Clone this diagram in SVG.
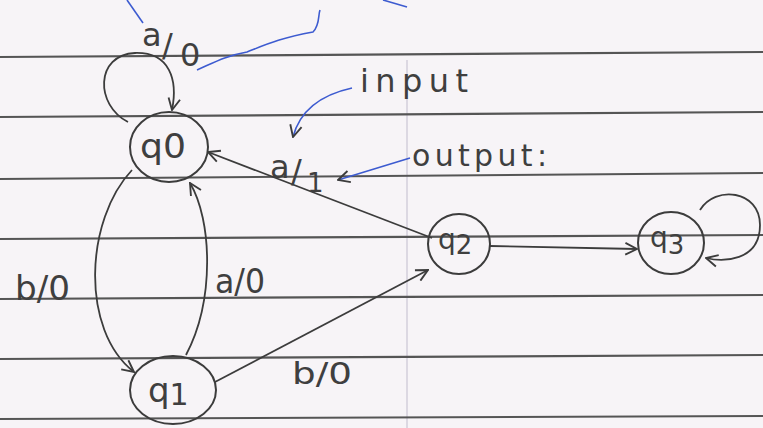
<svg xmlns="http://www.w3.org/2000/svg" width="763" height="428" viewBox="0 0 763 428">
<style>
.paper{fill:#f7f4f7}
.rule{stroke:#555;stroke-width:2.2;fill:none}
.faint{stroke:#dcd8e2;stroke-width:2;fill:none}
.node{fill:none;stroke:#3c3c3c;stroke-width:2}
.edge{fill:none;stroke:#3c3c3c;stroke-width:1.8}
.blue{fill:none;stroke:#3d5bd0;stroke-width:1.6}
.lbl{font-family:"DejaVu Sans","Liberation Sans",sans-serif;fill:#3f3f3f}
</style>
<defs>
<marker id="arr" viewBox="0 0 12 12" refX="11" refY="6" markerWidth="14" markerHeight="14" markerUnits="userSpaceOnUse" orient="auto">
<path d="M1,1 L11,6 L1,11" fill="none" stroke="#3c3c3c" stroke-width="1.6"/>
</marker>
</defs>
<rect class="paper" width="763" height="428"/>
<g id="paper-lines">
<line class="faint" x1="407" y1="60" x2="407" y2="428"/>
<line class="rule" x1="0" y1="57" x2="763" y2="52"/>
<line class="rule" x1="0" y1="117" x2="763" y2="112"/>
<line class="rule" x1="0" y1="179" x2="763" y2="173"/>
<line class="rule" x1="0" y1="239" x2="763" y2="235"/>
<line class="rule" x1="0" y1="299" x2="763" y2="295"/>
<line class="rule" x1="0" y1="359" x2="763" y2="355"/>
<line class="rule" x1="0" y1="419" x2="763" y2="416"/>
</g>
<g id="connectors">
<path class="edge" d="M128,122 C95,105 95,55 135,53 C170,52 178,80 172,110" marker-end="url(#arr)"/>
<path class="edge" d="M132,170 C85,220 80,330 134,372" marker-end="url(#arr)"/>
<path class="edge" d="M186,355 C215,300 212,220 190,183" marker-end="url(#arr)"/>
<path class="edge" d="M432,238 L208,152" marker-end="url(#arr)"/>
<path class="edge" d="M215,382 L428,270" marker-end="url(#arr)"/>
<path class="edge" d="M490,246 L637,249" marker-end="url(#arr)"/>
<path class="edge" d="M700,210 C715,185 760,190 760,225 C760,262 722,262 706,258" marker-end="url(#arr)"/>
</g>
<g id="annotations">
<path class="blue" d="M127,0 L143,23"/>
<path class="blue" d="M197,70 C215,62 225,56 247,52 C265,45 280,38 313,32 C320,25 318,15 320,10"/>
<path class="blue" d="M383,0 L407,7"/>
<path class="blue" d="M352,88 C320,95 300,110 293,137" marker-end="url(#arr)"/>
<path class="blue" d="M410,158 L338,180" marker-end="url(#arr)"/>
<text class="lbl" x="360" y="92" font-size="32" textLength="108" lengthAdjust="spacing">input</text>
<text class="lbl" x="412" y="166" font-size="30" textLength="135" lengthAdjust="spacing">output:</text>
</g>
<g id="q0">
<ellipse class="node" cx="169" cy="147" rx="39" ry="35"/>
<text class="lbl" x="140" y="158" font-size="34" textLength="46" lengthAdjust="spacingAndGlyphs">q0</text>
</g>
<g id="q1">
<ellipse class="node" cx="173" cy="390" rx="43" ry="34"/>
<text class="lbl" x="148" y="402" font-size="34">q<tspan font-size="30" dy="3">1</tspan></text>
</g>
<g id="q2">
<ellipse class="node" cx="459" cy="244" rx="31" ry="30"/>
<text class="lbl" x="438" y="249" font-size="28">q<tspan font-size="26" dy="5">2</tspan></text>
</g>
<g id="q3">
<ellipse class="node" cx="671" cy="243" rx="33" ry="31"/>
<text class="lbl" x="650" y="247" font-size="28">q<tspan font-size="26" dy="7">3</tspan></text>
</g>
<g id="edge-labels">
<text class="lbl" font-size="32"><tspan x="142" y="46">a</tspan><tspan x="162" y="56">/</tspan><tspan x="180" y="66">0</tspan></text>
<text class="lbl" font-size="32"><tspan x="270" y="178">a</tspan><tspan x="291" y="182">/</tspan><tspan x="307" y="192" font-size="26">1</tspan></text>
<text class="lbl" x="15" y="300" font-size="34" textLength="55" lengthAdjust="spacingAndGlyphs">b/0</text>
<text class="lbl" x="215" y="293" font-size="34" textLength="50" lengthAdjust="spacingAndGlyphs">a/0</text>
<text class="lbl" x="292" y="384" font-size="30" textLength="60" lengthAdjust="spacingAndGlyphs">b/0</text>
</g>
</svg>
